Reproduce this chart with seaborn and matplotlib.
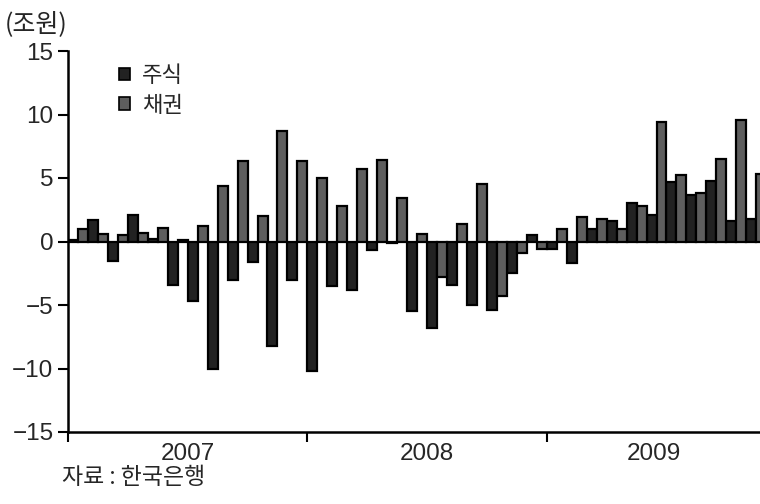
import numpy as np
import pandas as pd
import matplotlib
matplotlib.use("Agg")
import matplotlib.pyplot as plt
from matplotlib.patches import Patch
from matplotlib.font_manager import FontProperties
import seaborn as sns

# monthly net flows, 조원 (Jan 2007 - Nov 2009)
years = ["2007", "2008", "2009"]
months = [f"{y}-{m:02d}" for y in years for m in range(1, 13)][:35]

stock = [0.1, 1.7, -1.5, 2.1, 0.2, -3.4, -4.7, -10.0, -3.0, -1.6, -8.2, -3.0,
         -10.2, -3.5, -3.8, -0.7, -0.1, -5.5, -6.8, -3.4, -5.0, -5.4, -2.5, 0.5,
         -0.6, -1.7, 1.0, 1.6, 3.0, 2.1, 4.7, 3.7, 4.8, 1.6, 1.8]
bond = [1.0, 0.6, 0.5, 0.7, 1.1, 0.1, 1.2, 4.4, 6.3, 2.0, 8.7, 6.3,
        5.0, 2.8, 5.7, 6.4, 3.4, 0.6, -2.8, 1.4, 4.5, -4.3, -0.9, -0.6,
        1.0, 1.9, 1.8, 1.0, 2.8, 9.4, 5.2, 3.8, 6.5, 9.6, 5.3]

series = ["주식", "채권"]
colors = {"주식": "#222222", "채권": "#5e5e5e"}

df = pd.DataFrame({
    "month": months * 2,
    "kind": [series[0]] * len(months) + [series[1]] * len(months),
    "value": stock + bond,
})

sns.set_style("ticks")
plt.rcParams["font.family"] = ["Liberation Sans", "Noto Sans CJK KR"]
plt.rcParams["axes.unicode_minus"] = True

fig = plt.figure(figsize=(7.6, 5.04), dpi=100)
ax = fig.add_axes([68 / 760, 1 - 432 / 504, 1 - 68 / 760, (432 - 51) / 504])

sns.barplot(data=df, x="month", y="value", hue="kind", order=months,
            hue_order=series, palette=colors, width=1.0, dodge=True,
            edgecolor="black", linewidth=1.6, errorbar=None, legend=False, ax=ax)

# axis limits: plot is cut at the right edge in the middle of Nov 2009
xmax = -0.5 + (760 - 68) / 19.95
ax.set_xlim(-0.5, xmax)
ax.set_ylim(-15, 15)
ax.set_yticks(np.arange(-15, 16, 5))
ax.set_xlabel("")
ax.set_ylabel("")

# year boundaries as ticks, year names in the middle
ax.set_xticks([-0.5, 11.5, 23.5])
ax.set_xticklabels([])
ax.set_xticks([5.5, 17.5, (23.5 + xmax) / 2], minor=True)
ax.set_xticklabels(years, minor=True)
ax.tick_params(axis="x", which="major", direction="out", length=7, width=1.5, color="black")
ax.tick_params(axis="x", which="minor", length=0, pad=8, labelsize=17.5)
ax.tick_params(axis="y", direction="out", length=7, width=1.5, pad=3.5, labelsize=17.5, color="black")

sns.despine(ax=ax, top=True, right=True)
for side in ["left", "bottom"]:
    ax.spines[side].set_linewidth(1.8)
    ax.spines[side].set_color("black")

kr = FontProperties(family="Noto Sans CJK KR", size=16)
handles = [Patch(facecolor=colors[s], edgecolor="black", linewidth=1.2) for s in series]
ax.legend(handles, series, loc="upper left", bbox_to_anchor=(119 / 760, 1 - 64 / 504),
          bbox_transform=fig.transFigure, frameon=False, borderpad=0, borderaxespad=0,
          handlelength=0.5, handleheight=0.5, handletextpad=0.55, labelspacing=0.3, prop=kr)

fig.text(36 / 760, 1 - 24 / 504, "(조원)", ha="center", va="center",
         family="Noto Sans CJK KR", fontsize=18)
fig.text(62 / 760, 1 - 478 / 504, "자료 : 한국은행", ha="left", va="center",
         family="Noto Sans CJK KR", fontsize=16.5, weight="medium")

fig.savefig("out.png", dpi=100)
